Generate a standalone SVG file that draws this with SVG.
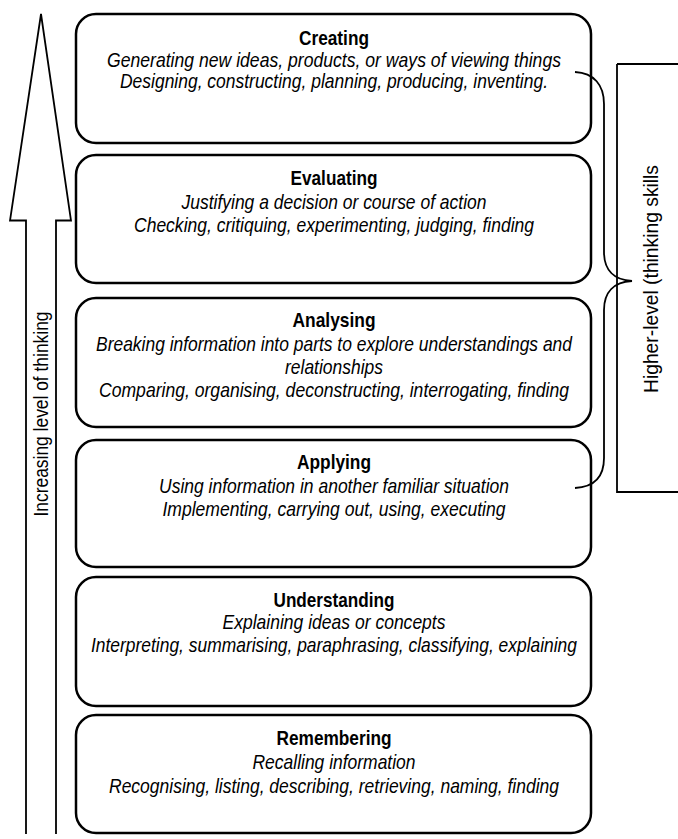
<svg xmlns="http://www.w3.org/2000/svg" width="678" height="839" viewBox="0 0 678 839">
<style>
.box{fill:#fff;stroke:#000;stroke-width:2.5}
.ln{fill:none;stroke:#000;stroke-width:1.8}
text{font-family:"Liberation Sans",Arial,sans-serif;fill:#000;text-anchor:middle}
.t{font-size:21px;font-weight:bold}
.i{font-size:21px;font-style:italic}
.s{font-size:21px}
</style>
<rect width="678" height="839" fill="#fff"/>
<g id="arrow">
<path class="ln" d="M26,834 V220.5 H10 L41,14 L71,220.5 H56 V834"/>
<text class="s" transform="translate(48,414) rotate(-90)" textLength="205" lengthAdjust="spacingAndGlyphs">Increasing level of thinking</text>
</g>
<g id="creating">
<rect class="box" x="76" y="14" width="515" height="129" rx="20"/>
<text class="t" x="334" y="45" textLength="70" lengthAdjust="spacingAndGlyphs">Creating</text>
<text class="i" x="334" y="67" textLength="454" lengthAdjust="spacingAndGlyphs">Generating new ideas, products, or ways of viewing things</text>
<text class="i" x="334" y="88" textLength="428" lengthAdjust="spacingAndGlyphs">Designing, constructing, planning, producing, inventing.</text>
</g>
<g id="evaluating">
<rect class="box" x="76" y="155" width="515" height="128" rx="20"/>
<text class="t" x="334" y="185" textLength="87" lengthAdjust="spacingAndGlyphs">Evaluating</text>
<text class="i" x="334" y="209" textLength="305" lengthAdjust="spacingAndGlyphs">Justifying a decision or course of action</text>
<text class="i" x="334" y="232" textLength="400" lengthAdjust="spacingAndGlyphs">Checking, critiquing, experimenting, judging, finding</text>
</g>
<g id="analysing">
<rect class="box" x="76" y="298" width="515" height="129" rx="20"/>
<text class="t" x="334" y="327" textLength="83" lengthAdjust="spacingAndGlyphs">Analysing</text>
<text class="i" x="334" y="351" textLength="476" lengthAdjust="spacingAndGlyphs">Breaking information into parts to explore understandings and</text>
<text class="i" x="334" y="374" textLength="98" lengthAdjust="spacingAndGlyphs">relationships</text>
<text class="i" x="334" y="397" textLength="470" lengthAdjust="spacingAndGlyphs">Comparing, organising, deconstructing, interrogating, finding</text>
</g>
<g id="applying">
<rect class="box" x="76" y="440" width="515" height="127" rx="20"/>
<text class="t" x="334" y="469" textLength="74" lengthAdjust="spacingAndGlyphs">Applying</text>
<text class="i" x="334" y="493" textLength="350" lengthAdjust="spacingAndGlyphs">Using information in another familiar situation</text>
<text class="i" x="334" y="516" textLength="343" lengthAdjust="spacingAndGlyphs">Implementing, carrying out, using, executing</text>
</g>
<g id="understanding">
<rect class="box" x="76" y="577" width="515" height="129" rx="20"/>
<text class="t" x="334" y="607" textLength="121" lengthAdjust="spacingAndGlyphs">Understanding</text>
<text class="i" x="334" y="629" textLength="223" lengthAdjust="spacingAndGlyphs">Explaining ideas or concepts</text>
<text class="i" x="334" y="652" textLength="486" lengthAdjust="spacingAndGlyphs">Interpreting, summarising, paraphrasing, classifying, explaining</text>
</g>
<g id="remembering">
<rect class="box" x="76" y="715" width="515" height="118" rx="20"/>
<text class="t" x="334" y="745" textLength="115" lengthAdjust="spacingAndGlyphs">Remembering</text>
<text class="i" x="334" y="769" textLength="163" lengthAdjust="spacingAndGlyphs">Recalling information</text>
<text class="i" x="334" y="793" textLength="450" lengthAdjust="spacingAndGlyphs">Recognising, listing, describing, retrieving, naming, finding</text>
</g>
<g id="higher-level">
<path class="ln" d="M617,64 V492 H680 M617,64 H680"/>
<text class="s" transform="translate(658,279) rotate(-90)" textLength="228" lengthAdjust="spacingAndGlyphs">Higher-level (thinking skills</text>
</g>
<g id="connectors">
<path class="ln" d="M575,72 C594,73 604,85 604,104 V252 C604,270 614,280 632,281 C614,282 604,292 604,310 V458 C604,477 594,487 575,488"/>
</g>
</svg>
